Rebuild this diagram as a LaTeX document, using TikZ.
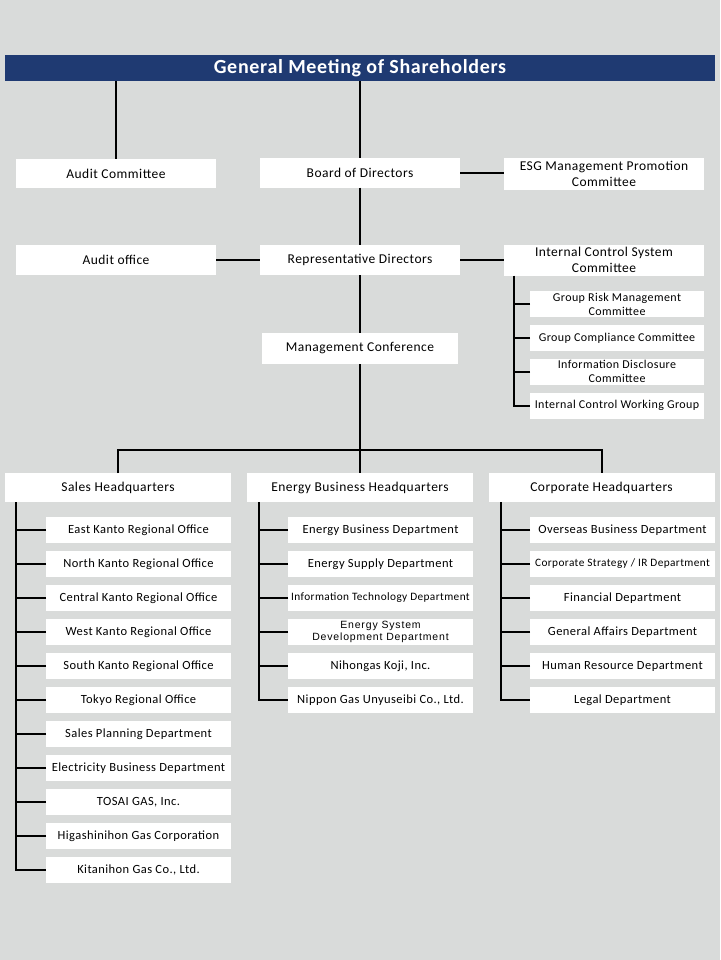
\documentclass[tikz,border=0pt]{standalone}
\usepackage{fontspec}
\setmainfont{Carlito}[LetterSpace=3.5]
\newfontfamily\jpfont[LetterSpace=8]{Liberation Sans}
\definecolor{bgray}{HTML}{D9DBDA}
\definecolor{navy}{HTML}{1F3A72}
\tikzset{
	box/.style = {fill=white, inner sep=0pt, outer sep=0pt, align=center,
		minimum width=#1, minimum height=29pt,
		font=\fontsize{13.5}{16}\selectfont},
	box/.default = 200pt,
	sub/.style = {fill=white, inner sep=0pt, outer sep=0pt, align=center,
		minimum width=#1, minimum height=26pt,
		font=\fontsize{12.5}{14}\selectfont},
	sub/.default = 185pt,
	link/.style = {line width=2pt}
}
\begin{document}
\begin{tikzpicture}[x=1pt, y=-1pt]
\fill[bgray] (0,0) rectangle (720,960);
\useasboundingbox (0,0) rectangle (720,960);

\node[fill=navy, text=white, inner sep=0pt, minimum width=710pt, minimum height=26pt,
	font=\bfseries\fontsize{20}{22}\selectfont] (gms) at (360,68) {General Meeting of Shareholders};

\node[box] (ac) at (116,173.5) {Audit Committee};
\node[box] (bod) at (360,173) {Board of Directors};
\node[box, minimum height=32pt] (esg) at (604,174) {ESG Management Promotion\\Committee};
\node[box, minimum height=30pt] (ao) at (116,260) {Audit office};
\node[box, minimum height=30pt] (rd) at (360,260) {Representative Directors};
\node[box, minimum height=31pt] (ics) at (604,260) {Internal Control System\\Committee};
\node[box=196pt, minimum height=31pt] (mc) at (360,348.5) {Management Conference};

\node[sub=174pt, font=\fontsize{12}{14}\selectfont] (i1) at (617,304) {Group Risk Management\\Committee};
\node[sub=174pt, font=\fontsize{12}{14}\selectfont] (i2) at (617,338) {Group Compliance Committee};
\node[sub=174pt, font=\fontsize{12}{14}\selectfont] (i3) at (617,371.5) {Information Disclosure\\Committee};
\node[sub=174pt, font=\fontsize{12}{14}\selectfont] (i4) at (617,405.5) {Internal Control Working Group};

\node[box=226pt] (shq) at (118,487.5) {Sales Headquarters};
\node[box=226pt] (ehq) at (360,487.5) {Energy Business Headquarters};
\node[box=226pt] (chq) at (601.5,487.5) {Corporate Headquarters};

\node[sub] (s1) at (138.5,530) {East Kanto Regional Office};
\node[sub] (s2) at (138.5,564) {North Kanto Regional Office};
\node[sub] (s3) at (138.5,598) {Central Kanto Regional Office};
\node[sub] (s4) at (138.5,632) {West Kanto Regional Office};
\node[sub] (s5) at (138.5,666) {South Kanto Regional Office};
\node[sub] (s6) at (138.5,700) {Tokyo Regional Office};
\node[sub] (s7) at (138.5,734) {Sales Planning Department};
\node[sub] (s8) at (138.5,768) {Electricity Business Department};
\node[sub] (s9) at (138.5,802) {TOSAI GAS, Inc.};
\node[sub] (s10) at (138.5,836) {Higashinihon Gas Corporation};
\node[sub] (s11) at (138.5,870) {Kitanihon Gas Co., Ltd.};

\node[sub] (e1) at (380.5,530) {Energy Business Department};
\node[sub] (e2) at (380.5,564) {Energy Supply Department};
\node[sub, font=\fontsize{11.3}{13}\selectfont] (e3) at (380.5,598) {Information Technology Department};
\node[sub, font=\jpfont\fontsize{10.5}{11.5}\selectfont] (e4) at (380.5,632) {Energy System\\Development Department};
\node[sub] (e5) at (380.5,666) {Nihongas Koji, Inc.};
\node[sub] (e6) at (380.5,700) {Nippon Gas Unyuseibi Co., Ltd.};

\node[sub] (c1) at (622.5,530) {Overseas Business Department};
\node[sub, font=\fontsize{11.3}{13}\selectfont] (c2) at (622.5,564) {Corporate Strategy / IR Department};
\node[sub] (c3) at (622.5,598) {Financial Department};
\node[sub] (c4) at (622.5,632) {General Affairs Department};
\node[sub] (c5) at (622.5,666) {Human Resource Department};
\node[sub] (c6) at (622.5,700) {Legal Department};

\coordinate (bus) at (360,450);
\coordinate (is) at (514,0);
\coordinate (ss) at (16,0);
\coordinate (es) at (259,0);
\coordinate (cs) at (501,0);

\draw[link] (gms.south -| ac.north) to (ac.north);
\draw[link] (gms.south -| bod.north) to (bod.north);
\draw[link] (bod.east) to (bod.east -| esg.west);
\draw[link] (bod) to (rd);
\draw[link] (ao) to (rd);
\draw[link] (rd) to (ics);
\draw[link] (rd) to (mc);
\draw[link] (mc.south) to (bus);
\draw[link] (shq.north) |- (bus) -| (chq.north);
\draw[link] (bus) to (ehq.north);

\draw[link] (ics.south -| is) |- (i4.west);
\draw[link] (i1.west) to (i1.west -| is);
\draw[link] (i2.west) to (i2.west -| is);
\draw[link] (i3.west) to (i3.west -| is);

\draw[link] (shq.south -| ss) |- (s11.west);
\draw[link] (s1.west) to (s1.west -| ss);
\draw[link] (s2.west) to (s2.west -| ss);
\draw[link] (s3.west) to (s3.west -| ss);
\draw[link] (s4.west) to (s4.west -| ss);
\draw[link] (s5.west) to (s5.west -| ss);
\draw[link] (s6.west) to (s6.west -| ss);
\draw[link] (s7.west) to (s7.west -| ss);
\draw[link] (s8.west) to (s8.west -| ss);
\draw[link] (s9.west) to (s9.west -| ss);
\draw[link] (s10.west) to (s10.west -| ss);

\draw[link] (ehq.south -| es) |- (e6.west);
\draw[link] (e1.west) to (e1.west -| es);
\draw[link] (e2.west) to (e2.west -| es);
\draw[link] (e3.west) to (e3.west -| es);
\draw[link] (e4.west) to (e4.west -| es);
\draw[link] (e5.west) to (e5.west -| es);

\draw[link] (chq.south -| cs) |- (c6.west);
\draw[link] (c1.west) to (c1.west -| cs);
\draw[link] (c2.west) to (c2.west -| cs);
\draw[link] (c3.west) to (c3.west -| cs);
\draw[link] (c4.west) to (c4.west -| cs);
\draw[link] (c5.west) to (c5.west -| cs);
\end{tikzpicture}
\end{document}
